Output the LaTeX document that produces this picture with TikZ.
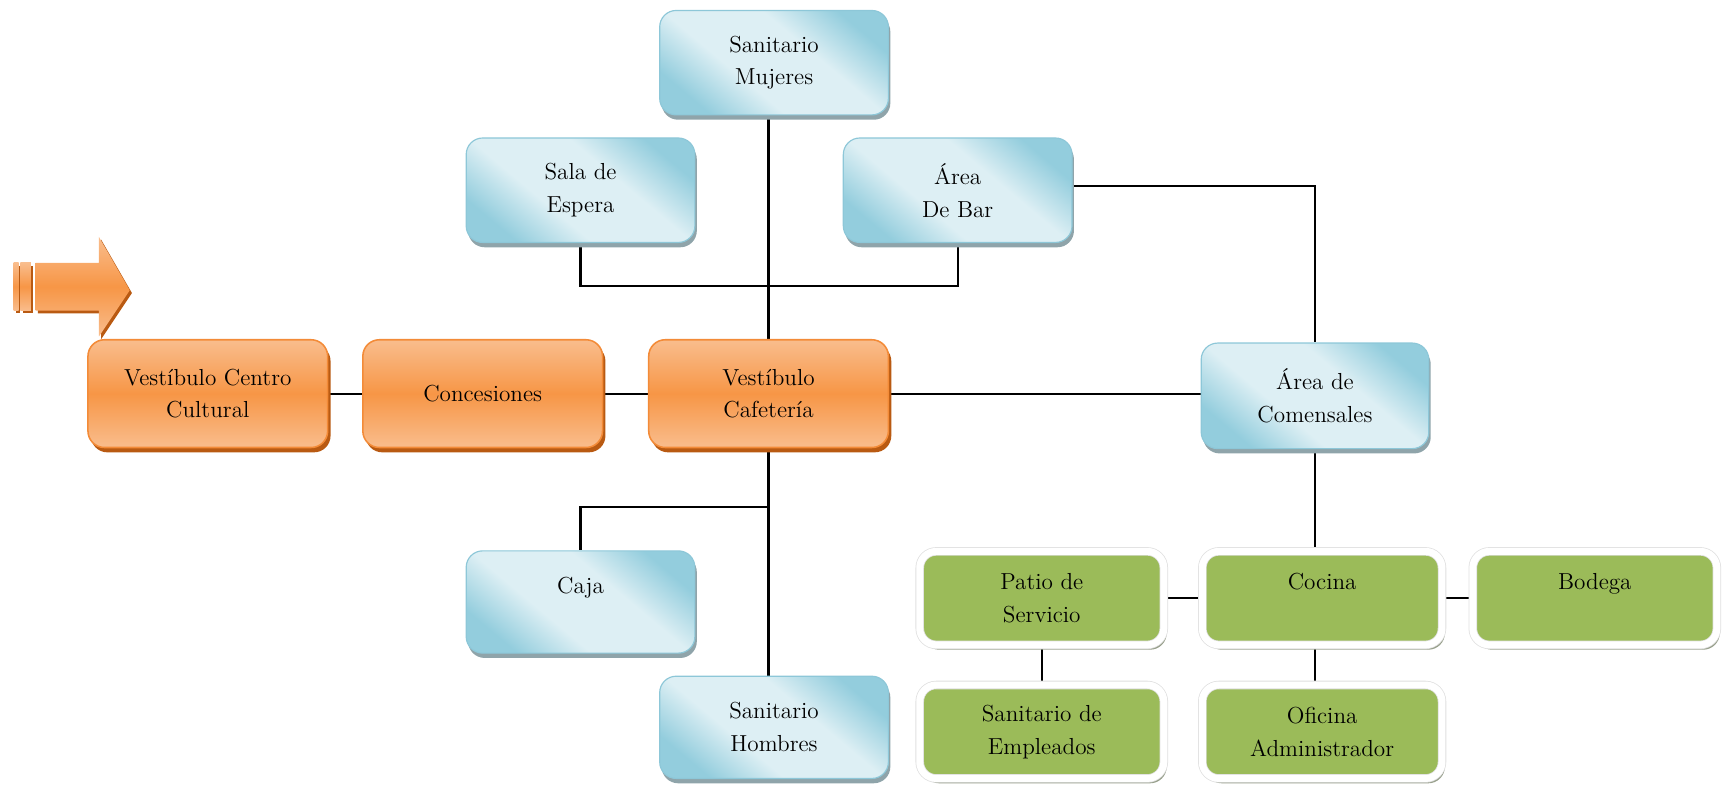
\documentclass[tikz,border=0pt]{standalone}
\usepackage{tikz}
\usetikzlibrary{shadows,backgrounds}

\definecolor{bluedark}{HTML}{93CDDD}
\definecolor{bluelight}{HTML}{DDEFF4}
\definecolor{blueedge}{HTML}{8DC7D8}
\definecolor{bluegrey}{HTML}{8FA4AA}
\definecolor{orangemid}{HTML}{F79646}
\definecolor{orangelight}{HTML}{F9BD8D}
\definecolor{orangeedge}{HTML}{F38B38}
\definecolor{orangedark}{HTML}{B95A12}
\definecolor{greenfill}{HTML}{9BBB59}
\definecolor{greengrey}{HTML}{98A08C}

\pgfdeclareverticalshading{bluesheen}{100bp}{color(0bp)=(bluedark); color(25bp)=(bluedark);
    color(40bp)=(bluelight); color(60bp)=(bluelight); color(75bp)=(bluedark); color(100bp)=(bluedark)}

\begin{document}
\begin{tikzpicture}[
            every node/.style={align=center,font=\fontsize{12}{17}\selectfont,inner sep=0pt},
            bluebox/.style={rounded corners=0.3cm,draw=blueedge,line width=0.6pt,
                shading=bluesheen,shading angle=-40,
                drop shadow={shadow xshift=1pt,shadow yshift=-2.5pt,fill=bluegrey,opacity=1},
                minimum width=4.16cm,minimum height=1.9cm},
            orangebox/.style={rounded corners=0.3cm,draw=orangeedge,line width=0.8pt,
                top color=orangelight,bottom color=orangelight,middle color=orangemid,
                drop shadow={shadow xshift=1.5pt,shadow yshift=-2.5pt,fill=orangedark,opacity=1},
                minimum width=4.36cm,minimum height=1.96cm},
            greenbox/.style={rounded corners=0.3cm,fill=greenfill,draw=black!12,line width=0.4pt,
                double=white,double distance=3.6pt,
                drop shadow={shadow xshift=1.5pt,shadow yshift=-2.5pt,fill=greengrey,opacity=1},
                minimum width=4.44cm,minimum height=1.7cm},
            link/.style={line width=1.1pt}
        ]
            \useasboundingbox (0,0) rectangle (31.36,-14.28);

            % entrance arrow
            \fill[orangedark] (0.69,-4.83) -- (1.84,-4.83) -- (1.84,-4.36) -- (2.40,-5.33)
                -- (1.84,-6.17) -- (1.84,-5.70) -- (0.69,-5.70) -- cycle;
            \fill[orangedark] (0.29,-4.83) rectangle (0.37,-5.70);
            \fill[orangedark] (0.41,-4.83) rectangle (0.60,-5.70);
            \shade[top color=orangelight,bottom color=orangelight,middle color=orangemid]
                (0.65,-4.78) -- (1.80,-4.78) -- (1.80,-4.31) -- (2.36,-5.28)
                -- (1.80,-6.12) -- (1.80,-5.65) -- (0.65,-5.65) -- cycle;
            \shade[top color=orangelight,bottom color=orangelight,middle color=orangemid]
                (0.25,-4.78) rectangle (0.34,-5.65);
            \shade[top color=orangelight,bottom color=orangelight,middle color=orangemid]
                (0.37,-4.78) rectangle (0.56,-5.65);

            % blue rooms
            \node[bluebox] (sanM) at (14.08,-1.14) {Sanitario\\Mujeres};
            \node[bluebox] (sala) at (10.56,-3.46) {Sala de\\Espera};
            \node[bluebox] (bar) at (17.42,-3.46) {Área\\De Bar};
            \node[bluebox,minimum width=4.14cm,minimum height=1.92cm] (comen) at (23.92,-7.20) {Área de\\Comensales};
            \node[bluebox,minimum height=1.86cm] (caja) at (10.56,-10.95) {Caja\\\mbox{}};
            \node[bluebox,minimum height=1.86cm] (sanH) at (14.08,-13.23) {Sanitario\\Hombres};

            % orange rooms
            \node[orangebox] (vcc) at (3.78,-7.16) {Vestíbulo Centro\\Cultural};
            \node[orangebox] (conc) at (8.78,-7.16) {Concesiones};
            \node[orangebox] (vcaf) at (13.98,-7.16) {Vestíbulo\\Cafetería};

            % green rooms
            \node[greenbox] (patio) at (18.95,-10.88) {Patio de\\Servicio};
            \node[greenbox,minimum width=4.36cm] (cocina) at (24.05,-10.88) {Cocina\\\mbox{}};
            \node[greenbox] (bodega) at (29.01,-10.88) {Bodega\\\mbox{}};
            \node[greenbox] (sanE) at (18.95,-13.31) {Sanitario de\\Empleados};
            \node[greenbox,minimum width=4.36cm] (ofic) at (24.05,-13.31) {Oficina\\Administrador};

            \coordinate (topbus) at (13.98,-5.2);
            \coordinate (lowbus) at (13.98,-9.22);

            \begin{scope}[on background layer]
                \draw[link] (vcaf.north) -- (vcaf.north |- sanM.south);
                \draw[link] (sala.south) |- (topbus) -| (bar.south);
                \draw[link] ([yshift=2pt]bar.east) -| (comen.north);
                \draw[link] (vcc) -- (conc);
                \draw[link] (conc) -- (vcaf);
                \draw[link] (vcaf.east) -- (vcaf.east -| comen.west);
                \draw[link] (vcaf.south) -- (vcaf.south |- sanH.north);
                \draw[link] (lowbus) -| (caja.north);
                \draw[link] (comen.south) -- (comen.south |- cocina.north);
                \draw[link] (patio) -- (cocina);
                \draw[link] (cocina) -- (bodega);
                \draw[link] (patio) -- (sanE);
                \draw[link] (comen.south |- cocina.south) -- (comen.south |- ofic.north);
            \end{scope}
        \end{tikzpicture}
\end{document}
